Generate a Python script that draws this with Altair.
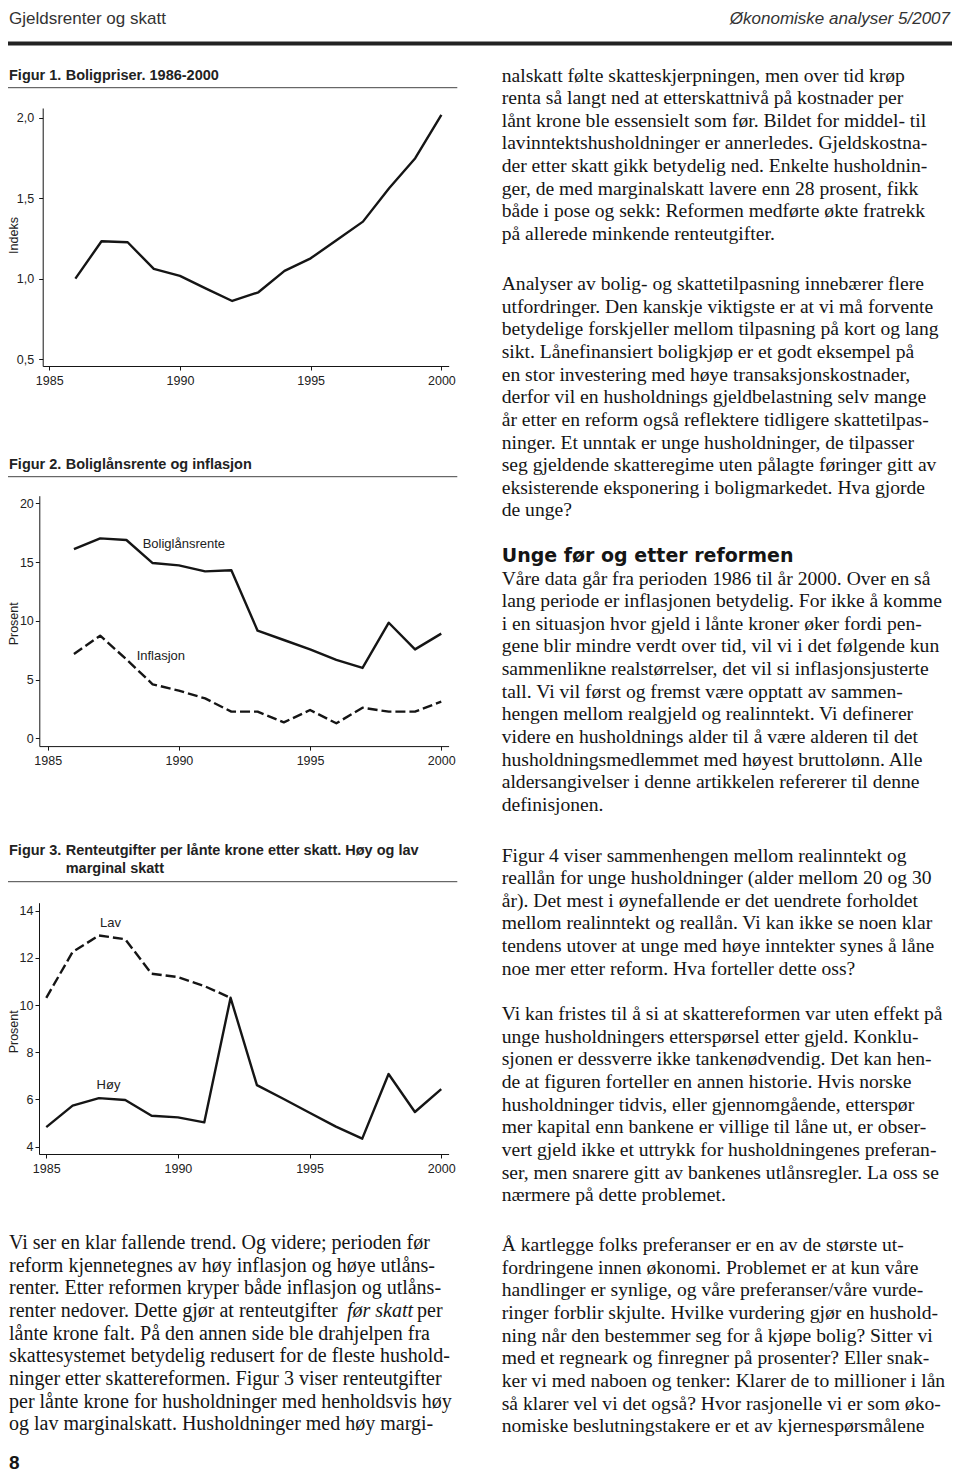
import altair as alt
import pandas as pd

W, H = 944, 1468  # view = page minus 8px margin

# ---------------- data ----------------
x_ticks = [1985, 1990, 1995, 2000]

fig1_years = list(range(1986, 2001))
fig1_index = [1.00, 1.232, 1.226, 1.06, 1.017, 0.938, 0.861, 0.915, 1.048, 1.126,
              1.24, 1.354, 1.561, 1.748, 2.017]
fig1_y_ticks = [0.5, 1.0, 1.5, 2.0]

fig2_years = list(range(1986, 2001))
fig2_rente = [16.11, 17.02, 16.88, 14.92, 14.72, 14.21, 14.30, 9.16, 8.37, 7.57,
              6.67, 5.99, 9.84, 7.57, 8.91]
fig2_infl = [7.18, 8.74, 6.72, 4.60, 4.06, 3.40, 2.27, 2.27, 1.36, 2.41,
             1.28, 2.61, 2.27, 2.27, 3.12]
fig2_label_text = ["Boliglånsrente", "Inflasjon"]
fig2_label_year = [1988.62, 1988.39]
fig2_label_value = [16.54, 7.03]
fig2_y_ticks = [0, 5, 10, 15, 20]

fig3_lav_years = list(range(1985, 1993))
fig3_lav = [10.31, 12.25, 12.95, 12.79, 11.33, 11.19, 10.81, 10.31]
fig3_hoy_years = list(range(1985, 2001))
fig3_hoy = [4.83, 5.74, 6.06, 5.98, 5.31, 5.24, 5.03, 10.31, 6.61, 6.03,
            5.44, 4.85, 4.34, 7.08, 5.47, 6.44]
fig3_label_text = ["Lav", "Høy"]
fig3_label_year = [1987.04, 1986.91]
fig3_label_value = [13.48, 6.61]
fig3_y_ticks = [4, 6, 8, 10, 12, 14]

header_left = "Gjeldsrenter og skatt"
header_right = "Økonomiske analyser 5/2007"
page_number = "8"

fig1_title = ["Figur 1.", "Boligpriser. 1986-2000"]
fig2_title = ["Figur 2.", "Boliglånsrente og inflasjon"]
fig3_title = ["Figur 3.", ["Renteutgifter per lånte krone etter skatt. Høy og lav", "marginal skatt"]]

left_para = [
    "Vi ser en klar fallende trend. Og videre; perioden før",
    "reform kjennetegnes av høy inflasjon og høye utlåns-",
    "renter. Etter reformen kryper både inflasjon og utlåns-",
    "renter nedover. Dette gjør at renteutgifter",
    "lånte krone falt. På den annen side ble drahjelpen fra",
    "skattesystemet betydelig redusert for de fleste hushold-",
    "ninger etter skattereformen. Figur 3 viser renteutgifter",
    "per lånte krone for husholdninger med henholdsvis høy",
    "og lav marginalskatt. Husholdninger med høy margi-",
]
left_italic = "før skatt"
left_after = "per"

right_p1 = [
    "nalskatt følte skatteskjerpningen, men over tid krøp",
    "renta så langt ned at etterskattnivå på kostnader per",
    "lånt krone ble essensielt som før. Bildet for middel- til",
    "lavinntektshusholdninger er annerledes. Gjeldskostna-",
    "der etter skatt gikk betydelig ned. Enkelte husholdnin-",
    "ger, de med marginalskatt lavere enn 28 prosent, fikk",
    "både i pose og sekk: Reformen medførte økte fratrekk",
    "på allerede minkende renteutgifter.",
]
right_p2 = [
    "Analyser av bolig- og skattetilpasning innebærer flere",
    "utfordringer. Den kanskje viktigste er at vi må forvente",
    "betydelige forskjeller mellom tilpasning på kort og lang",
    "sikt. Lånefinansiert boligkjøp er et godt eksempel på",
    "en stor investering med høye transaksjonskostnader,",
    "derfor vil en husholdnings gjeldbelastning selv mange",
    "år etter en reform også reflektere tidligere skattetilpas-",
    "ninger. Et unntak er unge husholdninger, de tilpasser",
    "seg gjeldende skatteregime uten pålagte føringer gitt av",
    "eksisterende eksponering i boligmarkedet. Hva gjorde",
    "de unge?",
]
right_heading = "Unge før og etter reformen"
right_p3 = [
    "Våre data går fra perioden 1986 til år 2000. Over en så",
    "lang periode er inflasjonen betydelig. For ikke å komme",
    "i en situasjon hvor gjeld i lånte kroner øker fordi pen-",
    "gene blir mindre verdt over tid, vil vi i det følgende kun",
    "sammenlikne realstørrelser, det vil si inflasjonsjusterte",
    "tall. Vi vil først og fremst være opptatt av sammen-",
    "hengen mellom realgjeld og realinntekt. Vi definerer",
    "videre en husholdnings alder til å være alderen til det",
    "husholdningsmedlemmet med høyest bruttolønn. Alle",
    "aldersangivelser i denne artikkelen refererer til denne",
    "definisjonen.",
]
right_p4 = [
    "Figur 4 viser sammenhengen mellom realinntekt og",
    "reallån for unge husholdninger (alder mellom 20 og 30",
    "år). Det mest i øynefallende er det uendrete forholdet",
    "mellom realinntekt og reallån. Vi kan ikke se noen klar",
    "tendens utover at unge med høye inntekter synes å låne",
    "noe mer etter reform. Hva forteller dette oss?",
]
right_p5 = [
    "Vi kan fristes til å si at skattereformen var uten effekt på",
    "unge husholdningers etterspørsel etter gjeld. Konklu-",
    "sjonen er dessverre ikke tankenødvendig. Det kan hen-",
    "de at figuren forteller en annen historie. Hvis norske",
    "husholdninger tidvis, eller gjennomgående, etterspør",
    "mer kapital enn bankene er villige til låne ut, er obser-",
    "vert gjeld ikke et uttrykk for husholdningenes preferan-",
    "ser, men snarere gitt av bankenes utlånsregler. La oss se",
    "nærmere på dette problemet.",
]
right_p6 = [
    "Å kartlegge folks preferanser er en av de største ut-",
    "fordringene innen økonomi. Problemet er at kun våre",
    "handlinger er synlige, og våre preferanser/våre vurde-",
    "ringer forblir skjulte. Hvilke vurdering gjør en hushold-",
    "ning når den bestemmer seg for å kjøpe bolig? Sitter vi",
    "med et regneark og finregner på prosenter? Eller snak-",
    "ker vi med naboen og tenker: Klarer de to millioner i lån",
    "så klarer vel vi det også? Hvor rasjonelle vi er som øko-",
    "nomiske beslutningstakere er et av kjernespørsmålene",
]

# ---------------- styling helpers ----------------
INK = "#151515"
SANS = "Liberation Sans"
SERIF = "Liberation Serif"
BODY_SIZE = 20
RIGHT_SIZE = 19.6
LH = 22.65

AX = dict(grid=False, domainColor=INK, domainWidth=1, tickColor=INK, tickWidth=1,
          tickSize=4, labelFont=SANS, labelFontSize=12.5, labelColor="#222",
          labelFlush=False, labelOverlap=False)


def enc_x(dom, rng, axis_y):
    return alt.X("year:Q",
                 scale=alt.Scale(domain=dom, range=rng, nice=False, zero=False),
                 axis=alt.Axis(orient="bottom", offset=axis_y - H, values=x_ticks,
                               format="d", title=None, labelPadding=4, **AX))


def enc_y(dom, rng, axis_x, ticks, title, title_y, pad, expr=None):
    kw = dict(orient="left", offset=-axis_x, values=ticks, title=title,
              titleX=5.5 - axis_x, titleY=title_y, titleAngle=270,
              titleBaseline="middle", titleAlign="center", titleFont=SANS,
              titleFontSize=12.5, titleFontWeight="normal", titleColor="#222",
              labelPadding=pad, **AX)
    if expr:
        kw["labelExpr"] = expr
    else:
        kw["format"] = "d"
    return alt.Y("value:Q",
                 scale=alt.Scale(domain=dom, range=rng, nice=False, zero=False),
                 axis=alt.Axis(**kw))


ONE = pd.DataFrame({"k": [0]})


def text(content, x, y, size=BODY_SIZE, font=SERIF, weight="normal", style="normal",
         align="left", lh=LH, color=INK):
    return alt.Chart(ONE).mark_text(
        text=content, font=font, fontSize=size, fontWeight=weight, fontStyle=style,
        align=align, baseline="alphabetic", lineHeight=lh, color=color
    ).encode(x=alt.value(x), y=alt.value(y))


def rule(x1, x2, y, width=1, color="#444"):
    return alt.Chart(ONE).mark_rule(color=color, strokeWidth=width).encode(
        x=alt.value(x1), x2=alt.value(x2), y=alt.value(y))


LINE = dict(color=INK, strokeWidth=2.4, strokeJoin="round")
DASH = [10, 4]
LABEL = dict(font=SANS, fontSize=13, color="#222", align="left", baseline="middle")

# ---------------- figure 1 ----------------
X1 = enc_x([1984.75, 2000.28], [34.7, 440.7], 358)
Y1 = enc_y([0.457, 2.06], [358, 100], 34.7, fig1_y_ticks, "Indeks", 227, 5,
           expr="replace(format(datum.value, '.1f'), '.', ',')")
df1 = pd.DataFrame({"year": fig1_years, "value": fig1_index})
fig1 = alt.Chart(df1).mark_line(**LINE).encode(x=X1, y=Y1)

# ---------------- figure 2 ----------------
X2 = enc_x([1984.68, 2000.28], [31.3, 440.6], 738.1)
Y2 = enc_y([-0.66, 20.65], [738.1, 487.7], 31.3, fig2_y_ticks, "Prosent", 615.3, 2)
df2a = pd.DataFrame({"year": fig2_years, "value": fig2_rente})
df2b = pd.DataFrame({"year": fig2_years, "value": fig2_infl})
df2l = pd.DataFrame({"year": fig2_label_year, "value": fig2_label_value, "label": fig2_label_text})
fig2 = alt.layer(
    alt.Chart(df2a).mark_line(**LINE).encode(x=X2, y=Y2),
    alt.Chart(df2b).mark_line(strokeDash=DASH, **LINE).encode(x=X2, y=Y2),
    alt.Chart(df2l).mark_text(**LABEL).encode(x=X2, y=Y2, text="label:N"),
)

# ---------------- figure 3 ----------------
X3 = enc_x([1984.72, 2000.28], [30.9, 440.6], 1146.0)
Y3 = enc_y([3.69, 14.34], [1146.0, 894.7], 31.0, fig3_y_ticks, "Prosent", 1023.3, 2)
df3a = pd.DataFrame({"year": fig3_hoy_years, "value": fig3_hoy})
df3b = pd.DataFrame({"year": fig3_lav_years, "value": fig3_lav})
df3l = pd.DataFrame({"year": fig3_label_year, "value": fig3_label_value, "label": fig3_label_text})
fig3 = alt.layer(
    alt.Chart(df3a).mark_line(**LINE).encode(x=X3, y=Y3),
    alt.Chart(df3b).mark_line(strokeDash=DASH, **LINE).encode(x=X3, y=Y3),
    alt.Chart(df3l).mark_text(**LABEL).encode(x=X3, y=Y3, text="label:N"),
)

# ---------------- page text ----------------
TITLE = dict(font=SANS, size=14.5, weight="bold", color="#222")
HEAD_FONT = "Liberation Sans Narrow, Liberation Sans"
page = [
    text(header_left, 1, 16, size=17, font=HEAD_FONT, color="#333"),
    text(header_right, W - 2, 16, size=17, font=HEAD_FONT,
         style="italic", align="right", color="#333"),
    rule(0, W, 35.5, width=4, color="#222"),
    text(fig1_title[0], 1, 72, **TITLE), text(fig1_title[1], 57.7, 72, **TITLE),
    rule(0, 449.3, 79.7),
    text(fig2_title[0], 1, 460.5, **TITLE), text(fig2_title[1], 57.7, 460.5, **TITLE),
    rule(0, 449.3, 468.7),
    text(fig3_title[0], 1, 847, **TITLE), text(fig3_title[1], 57.7, 847, lh=18.3, **TITLE),
    rule(0, 449.3, 873.7),
    text(left_para, 1, 1241),
    text(left_italic, 339, 1241 + 3 * LH, style="italic"),
    text(left_after, 409, 1241 + 3 * LH),
    text(right_p1, 493.7, 73.5, size=RIGHT_SIZE),
    text(right_p2, 493.7, 282, size=RIGHT_SIZE),
    text(right_heading, 493.7, 553.7, size=19, font="DejaVu Sans", weight="bold"),
    text(right_p3, 493.7, 576.5, size=RIGHT_SIZE),
    text(right_p4, 493.7, 853.5, size=RIGHT_SIZE),
    text(right_p5, 493.7, 1012, size=RIGHT_SIZE),
    text(right_p6, 493.7, 1243, size=RIGHT_SIZE),
    text(page_number, 1, 1461, size=19, font=SANS, weight="bold"),
]

chart = alt.layer(fig1, fig2, fig3, *page).resolve_scale(
    x="independent", y="independent"
).properties(
    width=W, height=H, padding=0, autosize=alt.AutoSizeParams(type="none")
).configure_view(stroke=None)

chart.save("out.html", embed_options={"renderer": "svg", "actions": False})
